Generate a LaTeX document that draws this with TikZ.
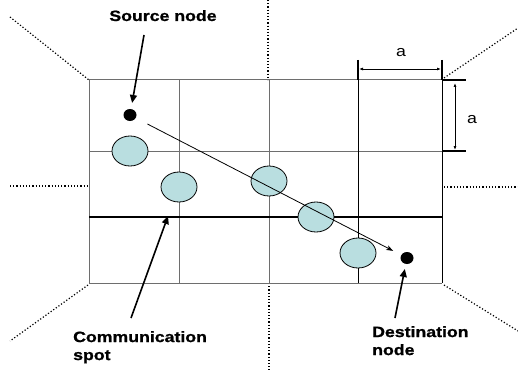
\documentclass[tikz,border=0pt]{standalone}
\usepackage{fontspec}
\setmainfont{Liberation Sans}[FakeStretch=1.18]
\newfontfamily\labelfont{Liberation Sans Bold}[FakeStretch=1.18, FakeBold=1]
\usetikzlibrary{arrows.meta,shapes.geometric}

\definecolor{spotfill}{RGB}{185,222,224}
\definecolor{gridgray}{RGB}{110,110,110}

\tikzset{
  gridline/.style={draw=gridgray, line width=1pt},
  boldline/.style={draw=black, line width=1.8pt},
  outline/.style={dotted, line width=1.2pt},
  spot/.style={ellipse, draw=black, line width=0.8pt, fill=spotfill,
               minimum width=36pt, minimum height=30pt, inner sep=0pt},
  mote/.style={ellipse, fill=black, minimum width=13pt, minimum height=12pt, inner sep=0pt},
  label/.style={font=\labelfont\fontsize{15}{18}\selectfont, inner sep=0pt, align=left},
  dimlabel/.style={font=\fontsize{15}{18}\selectfont, inner sep=0pt},
  pointer/.style={line width=1.6pt, -{Triangle[length=8pt,width=7pt]}},
  route/.style={line width=0.8pt, -{Stealth[length=7pt,width=5pt]}},
  dimarrow/.style={line width=0.8pt, {Latex[length=4pt,width=3pt]}-{Latex[length=4pt,width=3pt]}}
}

\begin{document}
\begin{tikzpicture}[x=1pt, y=-1pt]
\useasboundingbox (0,0) rectangle (518,377);

% dotted outline of the surrounding area
\draw[outline] (10,17) -- (89,80);
\draw[outline] (10,186) -- (89,186);
\draw[outline] (268,0) -- (268,80);
\draw[outline] (444,78) -- (518,28);
\draw[outline] (444,187) -- (518,187);
\draw[outline] (88,285) -- (10,341);
\draw[outline] (269,283) -- (269,370);
\draw[outline] (444,285) -- (518,331);

% grid cells
\draw[gridline] (89,80) -- (442,80);
\draw[gridline] (89,151) -- (442,151);
\draw[gridline] (89,283) -- (442,283);
\draw[gridline] (89,80) -- (89,283);
\draw[gridline] (179,80) -- (179,283);
\draw[gridline] (269,80) -- (269,283);
\draw[draw=black, line width=1pt] (358,80) -- (358,283);
\draw[draw=black, line width=1pt] (442,80) -- (442,283);
\draw[boldline] (89,217) -- (442,217);

% cell size dimensions
\draw[boldline] (358,60) -- (358,80);
\draw[boldline] (442,60) -- (442,80);
\draw[boldline] (442,80) -- (466,80);
\draw[boldline] (442,151) -- (466,151);
\coordinate (hdimL) at (359,69);
\coordinate (hdimR) at (441,69);
\coordinate (vdimT) at (455,83);
\coordinate (vdimB) at (455,150);
\draw[dimarrow] (hdimL) -- (hdimR);
\draw[dimarrow] (vdimT) -- (vdimB);
\node[dimlabel, anchor=base] (alabh) at (401,57) {a};
\node[dimlabel, anchor=base] (alabv) at (472,123) {a};

% communication spots
\node[spot] (c1) at (130,151) {};
\node[spot] (c2) at (179,187) {};
\node[spot] (c3) at (269,181) {};
\node[spot] (c4) at (316,217) {};
\node[spot] (c5) at (358,253) {};

% source and destination
\node[mote] (src) at (130,115) {};
\node[mote] (dst) at (407,258) {};
\draw[route, shorten <=13pt, shorten >=9pt] (src) -- (dst);

% labels with pointers
\node[label, anchor=base] (srclab) at (163,21) {Source node};
\coordinate (srcfrom) at (144,35);
\draw[pointer, shorten >=6pt] (srcfrom) -- (src);

\node[label, anchor=north west] (spotlab) at (73,331) {Communication\\spot};
\coordinate (spotfrom) at (131,318);
\coordinate (spotto) at (168,216);
\draw[pointer] (spotfrom) -- (spotto);

\node[label, anchor=north west] (dstlab) at (372,326) {Destination\\node};
\coordinate (dstfrom) at (395,318);
\draw[pointer, shorten >=5pt] (dstfrom) -- (dst);
\end{tikzpicture}
\end{document}
